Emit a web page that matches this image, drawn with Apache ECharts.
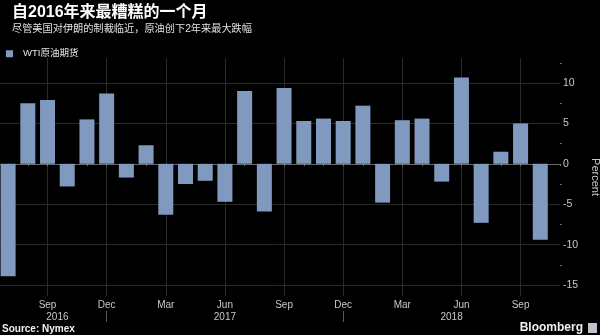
<!DOCTYPE html>
<html>
<head>
<meta charset="utf-8">
<script src="https://cdn.jsdelivr.net/npm/echarts@6/dist/echarts.min.js"></script>
<style>
  html, body { margin: 0; padding: 0; background: #000; }
  #chart { width: 600px; height: 335px; }
</style>
</head>
<body>
<div id="chart"></div>
<script>
// Monthly WTI crude futures change, percent. The first and last months frame the axis.
const months = ['Jun','Jul','Aug','Sep','Oct','Nov','Dec',
  'Jan','Feb','Mar','Apr','May','Jun','Jul','Aug','Sep','Oct','Nov','Dec',
  'Jan','Feb','Mar','Apr','May','Jun','Jul','Aug','Sep','Oct','Nov'];
const monthYears = [2016,2016,2016,2016,2016,2016,2016,
  2017,2017,2017,2017,2017,2017,2017,2017,2017,2017,2017,2017,
  2018,2018,2018,2018,2018,2018,2018,2018,2018,2018,2018];
const wtiChange = [null, -13.9, 7.5, 7.9, -2.8, 5.5, 8.7,
  -1.7, 2.3, -6.3, -2.5, -2.1, -4.7, 9.0, -5.9, 9.4, 5.3, 5.6, 5.3,
  7.2, -4.8, 5.4, 5.6, -2.2, 10.7, -7.3, 1.5, 5.0, -9.4, null];
const yTicks = [-15, -10, -5, 0, 5, 10];
const yHalfTicks = [-12.5, -7.5, -2.5, 2.5, 7.5, 12.5];
const years = [2016, 2017, 2018];

const FONT = '"Liberation Sans", "Noto Sans CJK SC", sans-serif';
const BAR = '#8099bf';

// Year label positions: centred between the year dividers (placed at each December)
const lastIdx = months.length - 1;
const dividers = [];
months.forEach((m, i) => { if (m === 'Dec' && monthYears[i] < years[years.length - 1]) dividers.push(i); });
const firstShown = wtiChange.findIndex(v => v !== null);
const bounds = [firstShown].concat(dividers, [lastIdx]);
const yearPos = years.map((y, k) => (bounds[k] + bounds[k + 1]) / 2);

const chart = echarts.init(document.getElementById('chart'), null, { renderer: 'canvas' });

chart.setOption({
  backgroundColor: '#000',
  animation: false,
  title: {
    text: '自2016年来最糟糕的一个月',
    subtext: '尽管美国对伊朗的制裁临近，原油创下2年来最大跌幅',
    left: 8, top: 2, itemGap: 3, padding: [3, 4],
    textStyle: { color: '#fff', fontSize: 16, fontWeight: 'bold', fontFamily: FONT },
    subtextStyle: { color: '#e0e0e0', fontSize: 10.2, fontFamily: FONT }
  },
  legend: {
    left: 1, top: 44, itemWidth: 7, itemHeight: 7, icon: 'rect',
    data: ['WTI原油期货'],
    textStyle: { color: '#e6e6e6', fontSize: 9.5, fontFamily: FONT, padding: [0, 0, 0, 5] }
  },
  grid: { left: -11.6, right: 40, top: 58, bottom: 39, containLabel: false, outerBoundsMode: 'none' },
  xAxis: [{
    type: 'category',
    data: months,
    boundaryGap: false,
    axisLine: { show: true, lineStyle: { color: '#6a6a6a', width: 1 } },
    axisTick: { show: true, interval: 0, length: 2, lineStyle: { color: '#8a8a8a' } },
    axisLabel: {
      interval: (i) => i > 0 && i % 3 === 0,
      color: '#c8c8c8', fontSize: 10, fontFamily: FONT, margin: 4
    },
    splitLine: {
      show: true,
      interval: (i) => i > 0 && i % 3 === 0,
      lineStyle: { color: '#2a2a2a', width: 1 }
    }
  }, {
    // year labels
    type: 'value',
    min: 0, max: lastIdx,
    position: 'bottom',
    offset: 14,
    axisLine: { show: false },
    axisTick: { show: false },
    axisLabel: {
      customValues: yearPos,
      formatter: (v) => { const k = yearPos.findIndex(p => Math.abs(p - v) < 1e-6); return k >= 0 ? String(years[k]) : ''; },
      color: '#c8c8c8', fontSize: 10, fontFamily: FONT, margin: 2
    },
    splitLine: { show: false }
  }, {
    // year dividers
    type: 'category',
    data: months,
    boundaryGap: false,
    position: 'bottom',
    offset: 15,
    axisLine: { show: false },
    axisTick: { show: true, interval: (i) => dividers.indexOf(i) >= 0, length: 11,
      lineStyle: { color: '#5a5a5a' } },
    axisLabel: { show: false },
    splitLine: { show: false }
  }],
  yAxis: [{
    type: 'value',
    position: 'right',
    min: -16.36, max: 13.1,
    name: 'Percent',
    nameLocation: 'middle',
    nameRotate: -90,
    nameGap: 29,
    nameTextStyle: { color: '#c8c8c8', fontSize: 11, fontFamily: FONT },
    axisLine: { show: true, lineStyle: { color: '#9a9a9a' } },
    axisTick: { show: true, customValues: yTicks, length: 3, lineStyle: { color: '#bbb' } },
    axisLabel: { customValues: yTicks, color: '#c8c8c8', fontSize: 10.5, fontFamily: FONT, margin: 3 },
    splitLine: { show: true, lineStyle: { color: '#2a2a2a', width: 1 } }
  }, {
    type: 'value',
    position: 'right',
    min: -16.36, max: 13.1,
    axisLine: { show: false },
    axisTick: { show: true, customValues: yHalfTicks, length: 1.5, lineStyle: { color: '#888' } },
    axisLabel: { show: false },
    splitLine: { show: false }
  }],
  series: [{
    name: 'WTI原油期货',
    type: 'bar',
    xAxisIndex: 0,
    yAxisIndex: 0,
    data: wtiChange.map(v => v === null ? '-' : v),
    barWidth: 15,
    itemStyle: { color: BAR },
    emphasis: { disabled: true }
  }],
  graphic: [{
    type: 'text', left: 2, top: 324,
    style: { text: 'Source: Nymex', fill: '#f0f0f0', font: 'bold 10px ' + FONT }
  }, {
    type: 'text', right: 17, top: 322,
    style: { text: 'Bloomberg', fill: '#f0f0f0', font: 'bold 12px ' + FONT }
  }, {
    type: 'rect', right: 3, top: 323,
    shape: { width: 9, height: 10 },
    style: { fill: '#bfc3cc' }
  }]
});
</script>
</body>
</html>
